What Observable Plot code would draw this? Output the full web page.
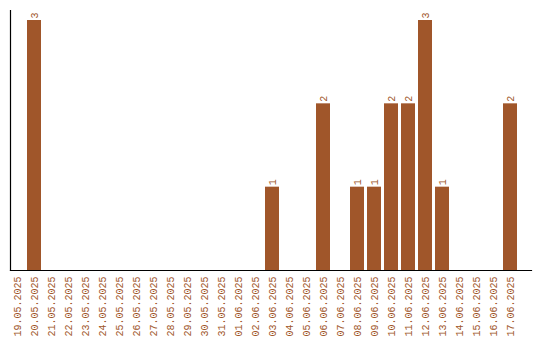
<!DOCTYPE html>
<html>
<head>
<meta charset="utf-8">
<script src="https://cdn.jsdelivr.net/npm/d3@7"></script>
<script src="https://cdn.jsdelivr.net/npm/@observablehq/plot@0.6"></script>
<style>
  body { margin: 0; background: #fff; }
  svg { display: block; }
</style>
</head>
<body>
<div id="chart"></div>
<script>
const dates = ["19.05.2025","20.05.2025","21.05.2025","22.05.2025","23.05.2025","24.05.2025","25.05.2025","26.05.2025","27.05.2025","28.05.2025","29.05.2025","30.05.2025","31.05.2025","01.06.2025","02.06.2025","03.06.2025","04.06.2025","05.06.2025","06.06.2025","07.06.2025","08.06.2025","09.06.2025","10.06.2025","11.06.2025","12.06.2025","13.06.2025","14.06.2025","15.06.2025","16.06.2025","17.06.2025"];
const counts = [0,3,0,0,0,0,0,0,0,0,0,0,0,0,0,1,0,0,2,0,1,1,2,2,3,1,0,0,0,2];

const data = dates.map((d, i) => ({date: d, count: counts[i]}));
const nonzero = data.filter(d => d.count > 0);
const color = "#a0562a";

const chart = Plot.plot({
  width: 540,
  height: 340,
  marginTop: 10,
  marginLeft: 10,
  marginRight: 9,
  marginBottom: 70,
  style: {fontFamily: "'Liberation Mono', 'Courier New', monospace", fontSize: "10px", background: "#fff"},
  x: {type: "band", domain: dates, range: [10, 517], paddingInner: 3/17, paddingOuter: 0, label: null},
  y: {domain: [0, 3.12], axis: null},
  marks: [
    Plot.barY(nonzero, {x: "date", y: "count", fill: color}),
    Plot.text(nonzero, {x: "date", y: "count", text: d => String(d.count), rotate: -90, textAnchor: "start", lineAnchor: "middle", dy: -2, fill: color, fontSize: 10}),
    Plot.axisX({tickSize: 0, tickPadding: 6, tickRotate: -90, fill: color, fontSize: 10, label: null}),
    Plot.frame({anchor: "left", stroke: "#000", strokeWidth: 1.2}),
    Plot.frame({anchor: "bottom", stroke: "#000", strokeWidth: 1.2})
  ]
});
document.getElementById("chart").appendChild(chart);
</script>
</body>
</html>
